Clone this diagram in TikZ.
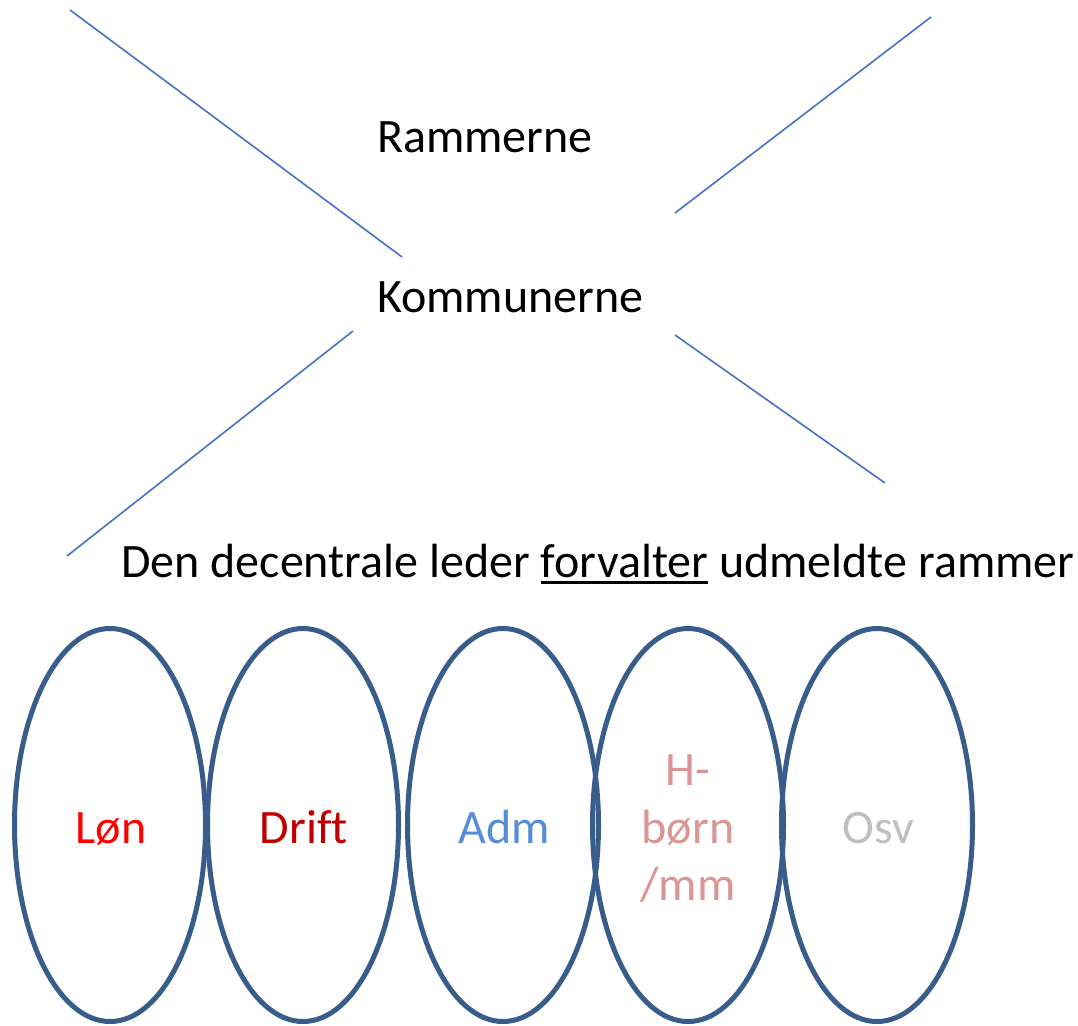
\documentclass[tikz,border=0pt]{standalone}
\usepackage{fontspec}
\setmainfont{Carlito}[Ligatures=CommonOff]
\usetikzlibrary{shapes.geometric}
\definecolor{ovalblue}{RGB}{56,93,138}
\definecolor{lineblue}{RGB}{68,114,196}
\definecolor{lonred}{RGB}{255,0,0}
\definecolor{driftred}{RGB}{192,0,0}
\definecolor{admblue}{RGB}{85,142,213}
\definecolor{hbpink}{RGB}{217,150,148}
\definecolor{osvgray}{RGB}{191,191,191}
\newcommand\myul[1]{\setbox0\hbox{#1}\rlap{\rule[-7pt]{\wd0}{3pt}}#1}
\begin{document}
\begin{tikzpicture}[x=1pt,y=-1pt,
  oval/.style={ellipse, draw=ovalblue, line width=5pt, minimum width=191pt, minimum height=393pt, inner sep=0pt},
  lbl/.style={inner sep=0pt, anchor=base, font=\fontsize{48}{58}\selectfont},
  head/.style={inner sep=0pt, anchor=base west, font=\fontsize{48}{58}\selectfont},
  thin/.style={draw=lineblue, line width=1.6pt}]
\useasboundingbox (0,0) rectangle (1078,1025);
% cross lines
\coordinate (a1) at (70,10);  \coordinate (a2) at (402,257);
\coordinate (b1) at (931,17); \coordinate (b2) at (675,213);
\coordinate (c1) at (353,331); \coordinate (c2) at (67,556);
\coordinate (d1) at (675,335); \coordinate (d2) at (885,483);
\draw[thin] (a1) -- (a2);
\draw[thin] (b1) -- (b2);
\draw[thin] (c1) -- (c2);
\draw[thin] (d1) -- (d2);
% texts
\node[head] (ramm) at (377,152) {Rammerne};
\node[head] (komm) at (377,312) {Kommunerne};
\node[head] (den) at (121,577) {Den decentrale leder \myul{forvalter} udmeldte rammer};
% ovals
\node[oval] (e1) at (110,825) {};
\node[oval] (e2) at (303,825) {};
\node[oval] (e3) at (503,825) {};
\node[oval] (e4) at (688,825) {};
\node[oval] (e5) at (877,825) {};
% labels
\node[lbl, text=lonred] (t1) at (111,843) {Løn};
\node[lbl, text=driftred] (t2) at (304,843) {Drift};
\node[lbl, text=admblue] (t3) at (504,843) {Adm};
\node[lbl, text=hbpink] (t4a) at (688,785) {H-};
\node[lbl, text=hbpink] (t4b) at (688,843) {børn};
\node[lbl, text=hbpink] (t4c) at (688,900) {/mm};
\node[lbl, text=osvgray] (t5) at (878,843) {Osv};
\end{tikzpicture}
\end{document}
